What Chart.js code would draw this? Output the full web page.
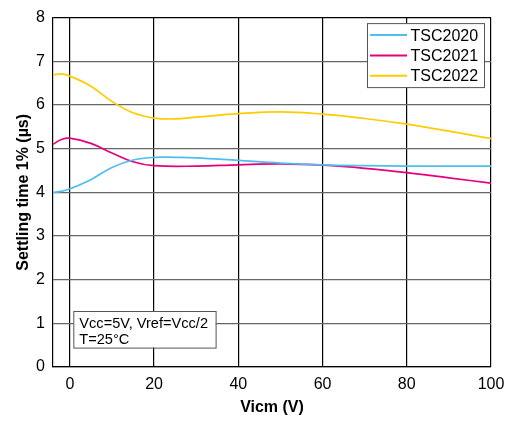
<!DOCTYPE html>
<html>
<head>
<meta charset="utf-8">
<script src="https://cdn.jsdelivr.net/npm/chart.js@4/dist/chart.umd.min.js"></script>
<style>
html,body{margin:0;padding:0;background:#fff;}
#wrap{width:515px;height:423px;position:relative;}
</style>
</head>
<body>
<div id="wrap"><canvas id="c" width="515" height="423"></canvas></div>
<script>
// ---- data ----
const vicm2020 = [-4, -2, 0, 5, 10, 15, 20, 25, 30, 40, 50, 60, 70, 80, 90, 100];
const tsc2020  = [4.00, 4.02, 4.08, 4.29, 4.57, 4.74, 4.80, 4.80, 4.79, 4.73, 4.67, 4.63, 4.61, 4.60, 4.60, 4.60];
const vicm2021 = [-4, -2, 0, 5, 10, 15, 20, 30, 40, 50, 60, 70, 80, 90, 100];
const tsc2021  = [5.10, 5.21, 5.24, 5.12, 4.90, 4.70, 4.61, 4.60, 4.63, 4.65, 4.62, 4.55, 4.45, 4.33, 4.21];
const vicm2022 = [-4, -2, 0, 5, 10, 15, 20, 25, 30, 40, 50, 60, 70, 80, 90, 100];
const tsc2022  = [6.69, 6.71, 6.66, 6.43, 6.08, 5.82, 5.70, 5.68, 5.72, 5.80, 5.84, 5.79, 5.69, 5.56, 5.40, 5.23];
const seriesNames = ['TSC2020', 'TSC2021', 'TSC2022'];
const xTickValues = [0, 20, 40, 60, 80, 100];
const yTickValues = [0, 1, 2, 3, 4, 5, 6, 7, 8];
const noteLines = ['Vcc=5V, Vref=Vcc/2', 'T=25°C'];
const xTitle = 'Vicm (V)';
const yTitle = 'Settling time 1% (µs)';

const colors = ['#4dbeee', '#e6007e', '#ffcc00'];
const FONT = '"Liberation Sans", Arial, sans-serif';

function pts(xs, ys){ return xs.map((x,i)=>({x:x, y:ys[i]})); }

const legendBox = {
  id: 'legendBox',
  afterDatasetsDraw(chart){
    const ctx = chart.ctx, a = chart.chartArea;
    const w = 117, h = 64;
    const left = a.right - 7 - w, top = a.top + 5.5;
    ctx.save();
    ctx.fillStyle = '#fff';
    ctx.fillRect(left, top, w, h);
    ctx.strokeStyle = '#555';
    ctx.lineWidth = 1;
    ctx.strokeRect(left + 0.5, top + 0.5, w, h);
    ctx.font = '16px ' + FONT;
    ctx.textBaseline = 'middle';
    ctx.fillStyle = '#000';
    chart.data.datasets.forEach((ds, i) => {
      const cy = top + 12 + i * 20.3;
      ctx.strokeStyle = ds.borderColor;
      ctx.lineWidth = 2;
      ctx.beginPath();
      ctx.moveTo(left + 3, cy);
      ctx.lineTo(left + 40, cy);
      ctx.stroke();
      ctx.fillText(ds.label, left + 43.5, cy + 1);
    });
    ctx.restore();
  }
};

const noteBox = {
  id: 'noteBox',
  afterDatasetsDraw(chart){
    const ctx = chart.ctx, a = chart.chartArea;
    const left = a.left + 20.3, top = a.bottom - 56, w = 142.3, h = 36.6;
    ctx.save();
    ctx.fillStyle = '#fff';
    ctx.fillRect(left, top, w, h);
    ctx.strokeStyle = '#555';
    ctx.lineWidth = 1;
    ctx.strokeRect(left + 0.5, top + 0.5, w, h);
    ctx.fillStyle = '#000';
    ctx.font = '14.6px ' + FONT;
    ctx.textBaseline = 'alphabetic';
    noteLines.forEach((t, i) => ctx.fillText(t, left + 6, top + 17 + i * 15.6));
    ctx.restore();
  }
};

new Chart(document.getElementById('c'), {
  type: 'line',
  data: {
    datasets: [
      {label: seriesNames[0], data: pts(vicm2020, tsc2020), borderColor: colors[0], backgroundColor: colors[0]},
      {label: seriesNames[1], data: pts(vicm2021, tsc2021), borderColor: colors[1], backgroundColor: colors[1]},
      {label: seriesNames[2], data: pts(vicm2022, tsc2022), borderColor: colors[2], backgroundColor: colors[2]}
    ].map(d => Object.assign(d, {borderWidth: 1.7, pointRadius: 0, tension: 0.4, fill: false}))
  },
  options: {
    responsive: false,
    animation: false,
    layout: {padding: {top: 12, right: 24, left: 0, bottom: 0}},
    plugins: {legend: {display: false}, tooltip: {enabled: false}},
    scales: {
      x: {
        type: 'linear', min: -4, max: 100,
        afterBuildTicks: s => { s.ticks = xTickValues.map(v => ({value: v})); },
        afterFit: s => { s.height = 56; },
        grid: {color: '#000', lineWidth: 1.2, drawTicks: false},
        border: {color: '#000', width: 1.2},
        ticks: {color: '#000', font: {family: FONT, size: 16}, padding: 8, maxRotation: 0},
        title: {display: true, text: xTitle, color: '#000', font: {family: FONT, size: 16, weight: 'bold'}, padding: {top: 0, bottom: 6}}
      },
      y: {
        type: 'linear', min: 0, max: 8,
        afterBuildTicks: s => { s.ticks = yTickValues.map(v => ({value: v})); },
        afterFit: s => { s.width = 53; },
        grid: {color: c => (c.tick && c.tick.value === 8) ? '#000' : '#666', lineWidth: 1.2, drawTicks: false},
        border: {color: '#000', width: 1.2},
        ticks: {color: '#000', font: {family: FONT, size: 16}, padding: 8},
        title: {display: true, text: yTitle, color: '#000', font: {family: FONT, size: 16, weight: 'bold'}, padding: {top: 14, bottom: 0}}
      }
    }
  },
  plugins: [legendBox, noteBox]
});
</script>
</body>
</html>
